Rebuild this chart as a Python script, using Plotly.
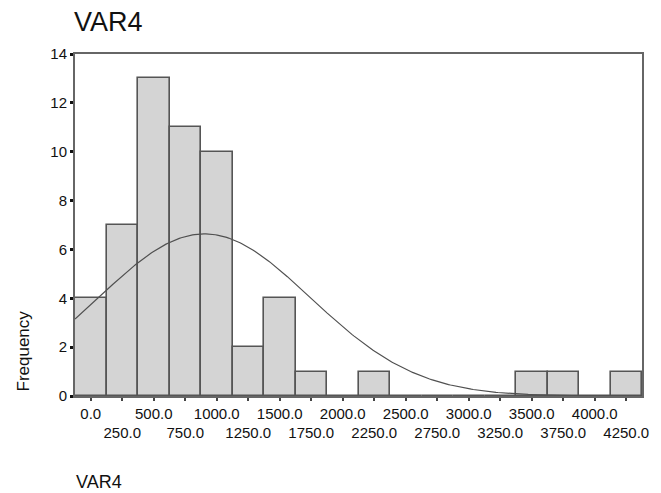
import numpy as np
import plotly.graph_objects as go

# Bin centres and counts
bin_centers = [0, 250, 500, 750, 1000, 1250, 1500, 1750, 2000, 2250, 2500,
               2750, 3000, 3250, 3500, 3750, 4000, 4250]
counts = [4, 7, 13, 11, 10, 2, 4, 1, 0, 1, 0, 0, 0, 0, 1, 1, 0, 1]
tick_labels = ["0.0", "250.0", "500.0", "750.0", "1000.0", "1250.0", "1500.0",
               "1750.0", "2000.0", "2250.0", "2500.0", "2750.0", "3000.0",
               "3250.0", "3500.0", "3750.0", "4000.0", "4250.0"]
y_ticks = [0, 2, 4, 6, 8, 10, 12, 14]

# Fitted normal curve (mean / sd of the binned data)
bin_width = 250
n_total = sum(counts)
mean_val = sum(x * c for x, c in zip(bin_centers, counts)) / n_total
var_val = sum(c * (x - mean_val) ** 2 for x, c in zip(bin_centers, counts)) / (n_total - 1)
sd_val = var_val ** 0.5

xs = np.linspace(-125, 4375, 300)
ys = n_total * bin_width / (sd_val * np.sqrt(2 * np.pi)) * np.exp(-0.5 * ((xs - mean_val) / sd_val) ** 2)

fig = go.Figure()
fig.add_trace(go.Bar(
    x=bin_centers, y=counts, width=bin_width,
    marker=dict(color="#d4d4d4", line=dict(color="#555555", width=1.6)),
    showlegend=False, hoverinfo="x+y"))
fig.add_trace(go.Scatter(
    x=xs, y=ys, mode="lines", line=dict(color="#505050", width=1.2),
    showlegend=False, hoverinfo="skip"))
# invisible trace on the second x axis (row of odd tick labels)
fig.add_trace(go.Scatter(x=[bin_centers[0]], y=[0], xaxis="x2", mode="markers",
                         marker=dict(opacity=0), showlegend=False, hoverinfo="skip"))

even_text = [t if i % 2 == 0 else "" for i, t in enumerate(tick_labels)]
odd_text = [t if i % 2 == 1 else "" for i, t in enumerate(tick_labels)]

PL, PR, PT, PB = 75, 19, 54, 97
W, H = 661, 493
pw, ph = W - PL - PR, H - PT - PB

fig.update_layout(
    width=W, height=H,
    margin=dict(l=PL, r=PR, t=PT, b=PB),
    paper_bgcolor="white", plot_bgcolor="white",
    font=dict(family="Liberation Sans, Arial, sans-serif", size=15, color="#111111"),
    title=dict(text="VAR4", x=74 / W, xanchor="left", y=1 - 22 / H, yanchor="middle",
               font=dict(size=27, color="#111111")),
    bargap=0,
    xaxis=dict(range=[-125, 4375], tickmode="array", tickvals=bin_centers,
               ticktext=even_text, tickangle=0, ticks="outside", ticklen=3, tickwidth=1.5,
               tickcolor="#444444", showline=True, linecolor="#666666", linewidth=2,
               mirror=True, showgrid=False, zeroline=False, tickfont=dict(size=15)),
    xaxis2=dict(range=[-125, 4375], overlaying="x", side="bottom", matches="x",
                tickmode="array", tickvals=bin_centers, ticktext=odd_text, tickangle=0,
                ticks="", showline=False, showgrid=False, zeroline=False,
                ticklabelstandoff=26, tickfont=dict(size=15)),
    yaxis=dict(range=[0, 14], tickmode="array", tickvals=y_ticks,
               ticks="outside", ticklen=3, tickwidth=2.5, tickcolor="#111111",
               showline=True, linecolor="#666666", linewidth=2, mirror=True,
               showgrid=False, zeroline=False, tickfont=dict(size=15)),
    annotations=[
        dict(text="VAR4", x=(74 - PL) / pw, y=(H - PB - 482) / ph, xref="paper", yref="paper",
             xanchor="left", yanchor="middle", showarrow=False,
             font=dict(size=18, color="#111111")),
        dict(text="Frequency", x=(22.5 - PL) / pw, y=(H - PB - 351) / ph, xref="paper",
             yref="paper", xanchor="center", yanchor="middle", textangle=-90,
             showarrow=False, font=dict(size=17, color="#111111")),
    ],
)

fig.write_html("out.html")
